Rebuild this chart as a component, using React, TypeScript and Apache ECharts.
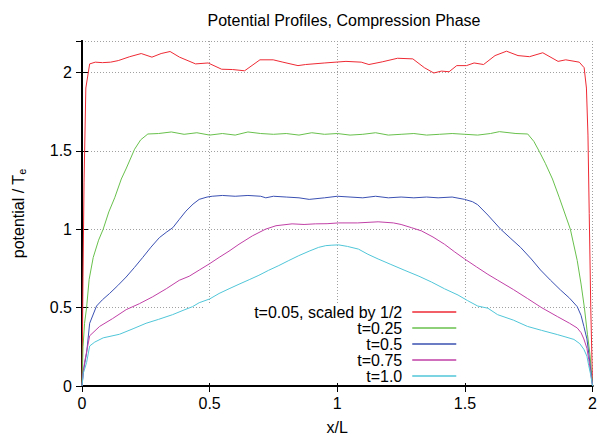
import React, { useEffect, useRef } from "react";
import * as echarts from "echarts";

const titleText = "Potential Profiles, Compression Phase";
const seriesNames = ["t=0.05, scaled by 1/2", "t=0.25", "t=0.5", "t=0.75", "t=1.0"];
const seriesColors = ["#ee2a34", "#68c04c", "#3a50b2", "#c040a6", "#50c6d8"];

const redX = [0, 0.004, 0.008, 0.015, 0.03, 0.052, 0.08, 0.112, 0.142, 0.187, 0.232, 0.274, 0.31, 0.345, 0.382, 0.445, 0.494, 0.547, 0.59, 0.637, 0.697, 0.749, 0.787, 0.846, 0.876, 0.951, 1.034, 1.094, 1.124, 1.176, 1.236, 1.296, 1.341, 1.378, 1.408, 1.438, 1.468, 1.506, 1.536, 1.573, 1.618, 1.663, 1.708, 1.753, 1.805, 1.865, 1.895, 1.948, 1.967, 1.976, 1.982, 1.987, 1.993, 2.0];
const redY = [0, 0.7, 1.3, 1.9, 2.054, 2.065, 2.062, 2.065, 2.075, 2.1, 2.12, 2.097, 2.12, 2.133, 2.097, 2.054, 2.06, 2.02, 2.018, 2.01, 2.08, 2.08, 2.065, 2.043, 2.05, 2.06, 2.07, 2.065, 2.05, 2.067, 2.09, 2.086, 2.03, 1.996, 2.008, 2.004, 2.043, 2.043, 2.06, 2.05, 2.107, 2.135, 2.107, 2.1, 2.125, 2.07, 2.08, 2.065, 2.03, 1.9, 1.6, 1.1, 0.5, 0];

const greenX = [0, 0.004, 0.01, 0.018, 0.028, 0.044, 0.065, 0.083, 0.105, 0.128, 0.154, 0.174, 0.206, 0.23, 0.258, 0.3, 0.35, 0.4, 0.45, 0.5, 0.55, 0.6, 0.65, 0.7, 0.75, 0.8, 0.85, 0.9, 0.95, 1.0, 1.05, 1.1, 1.15, 1.2, 1.25, 1.3, 1.35, 1.4, 1.45, 1.5, 1.55, 1.6, 1.635, 1.7, 1.746, 1.77, 1.791, 1.815, 1.843, 1.87, 1.913, 1.94, 1.955, 1.968, 1.98, 1.99, 2.0];
const greenY = [0, 0.25, 0.4, 0.5, 0.68, 0.82, 0.93, 1.0, 1.11, 1.2, 1.32, 1.39, 1.51, 1.57, 1.607, 1.61, 1.62, 1.605, 1.615, 1.6, 1.61, 1.6, 1.62, 1.61, 1.605, 1.61, 1.6, 1.615, 1.605, 1.61, 1.6, 1.605, 1.615, 1.6, 1.605, 1.61, 1.6, 1.605, 1.61, 1.605, 1.6, 1.61, 1.622, 1.61, 1.607, 1.56, 1.497, 1.42, 1.32, 1.2, 1.0, 0.8, 0.65, 0.5, 0.33, 0.2, 0];

const blueX = [0, 0.006, 0.018, 0.03, 0.057, 0.08, 0.108, 0.14, 0.173, 0.205, 0.238, 0.27, 0.303, 0.33, 0.356, 0.38, 0.407, 0.435, 0.459, 0.49, 0.51, 0.55, 0.6, 0.65, 0.7, 0.72, 0.75, 0.8, 0.85, 0.89, 0.95, 1.0, 1.05, 1.1, 1.15, 1.2, 1.25, 1.3, 1.35, 1.395, 1.45, 1.499, 1.53, 1.55, 1.59, 1.64, 1.68, 1.718, 1.76, 1.796, 1.835, 1.874, 1.91, 1.94, 1.955, 1.966, 1.978, 1.985, 1.993, 2.0];
const blueY = [0, 0.1, 0.21, 0.4, 0.51, 0.55, 0.59, 0.64, 0.695, 0.755, 0.82, 0.885, 0.946, 0.98, 1.01, 1.06, 1.115, 1.16, 1.19, 1.205, 1.21, 1.215, 1.21, 1.215, 1.21, 1.2, 1.21, 1.205, 1.2, 1.19, 1.2, 1.21, 1.205, 1.2, 1.21, 1.2, 1.205, 1.2, 1.205, 1.2, 1.205, 1.19, 1.175, 1.156, 1.09, 1.0, 0.94, 0.884, 0.81, 0.74, 0.675, 0.613, 0.56, 0.506, 0.45, 0.38, 0.3, 0.21, 0.1, 0];

const magentaX = [0, 0.004, 0.01, 0.03, 0.069, 0.12, 0.173, 0.225, 0.277, 0.33, 0.381, 0.42, 0.459, 0.5, 0.537, 0.576, 0.615, 0.667, 0.719, 0.76, 0.823, 0.87, 0.914, 0.96, 1.005, 1.08, 1.16, 1.22, 1.25, 1.29, 1.33, 1.375, 1.42, 1.46, 1.499, 1.545, 1.59, 1.628, 1.69, 1.745, 1.8, 1.862, 1.91, 1.94, 1.955, 1.966, 1.978, 1.985, 1.993, 2.0];
const magentaY = [0, 0.08, 0.15, 0.32, 0.38, 0.43, 0.487, 0.525, 0.569, 0.62, 0.674, 0.7, 0.739, 0.78, 0.82, 0.86, 0.904, 0.957, 1.0, 1.022, 1.034, 1.03, 1.034, 1.035, 1.04, 1.04, 1.047, 1.04, 1.03, 1.01, 0.989, 0.95, 0.904, 0.855, 0.81, 0.76, 0.712, 0.675, 0.615, 0.558, 0.5, 0.443, 0.4, 0.37, 0.34, 0.3, 0.24, 0.17, 0.08, 0];

const cyanX = [0, 0.005, 0.018, 0.03, 0.05, 0.083, 0.147, 0.2, 0.251, 0.3, 0.355, 0.4, 0.433, 0.459, 0.5, 0.537, 0.576, 0.615, 0.655, 0.693, 0.73, 0.771, 0.81, 0.849, 0.89, 0.927, 0.955, 0.979, 1.005, 1.04, 1.083, 1.12, 1.16, 1.21, 1.265, 1.32, 1.369, 1.42, 1.473, 1.51, 1.55, 1.59, 1.628, 1.69, 1.745, 1.8, 1.862, 1.9, 1.927, 1.95, 1.966, 1.978, 1.985, 1.993, 2.0];
const cyanY = [0, 0.08, 0.15, 0.255, 0.28, 0.307, 0.33, 0.365, 0.4, 0.425, 0.455, 0.485, 0.506, 0.531, 0.555, 0.59, 0.62, 0.649, 0.678, 0.706, 0.737, 0.768, 0.8, 0.831, 0.86, 0.884, 0.895, 0.898, 0.9, 0.89, 0.873, 0.84, 0.81, 0.775, 0.737, 0.7, 0.663, 0.62, 0.58, 0.545, 0.51, 0.496, 0.455, 0.42, 0.38, 0.355, 0.328, 0.31, 0.297, 0.27, 0.234, 0.19, 0.13, 0.07, 0];

const allX = [redX, greenX, blueX, magentaX, cyanX];
const allY = [redY, greenY, blueY, magentaY, cyanY];

const FONT = "Liberation Sans";
const FS = 16;

export default function App() {
  const ref = useRef<HTMLDivElement>(null);
  useEffect(() => {
    if (!ref.current) return;
    const chart = echarts.init(ref.current, null, { renderer: "svg" });
    const frame = { show: true, lineStyle: { color: "#000", width: 2 } };
    const split = { show: true, lineStyle: { color: "#a0a0a0", width: 1, type: [1, 2] } };
    const tick = { show: true, inside: true, length: 6, lineStyle: { color: "#000", width: 1 } };
    const option: any = {
      animation: false,
      backgroundColor: "#fff",
      textStyle: { fontFamily: FONT },
      title: {
        text: titleText,
        left: 339,
        top: 7,
        textAlign: "center",
        textStyle: { fontSize: FS, fontWeight: "normal", color: "#000", fontFamily: FONT },
      },
      grid: { left: 82, right: 5, top: 41, bottom: 50, containLabel: false },
      legend: {
        orient: "vertical",
        align: "right",
        right: 138,
        top: 299,
        itemWidth: 44,
        itemHeight: 14,
        itemGap: 0,
        itemStyle: { opacity: 0 },
        lineStyle: { width: 1.5 },
        textStyle: { fontSize: FS, color: "#000", fontFamily: FONT, padding: [0, 5, 0, 0] },
        data: seriesNames,
      },
      graphic: {
        elements: [
          { type: "rect", z: 1, shape: { x: 205, y: 303, width: 267, height: 80 }, style: { fill: "#fff" }, silent: true },
        ],
      },
      xAxis: [
        {
          type: "value",
          min: 0,
          max: 2,
          interval: 0.5,
          position: "bottom",
          axisLine: frame,
          axisTick: tick,
          splitLine: split,
          axisLabel: { fontSize: FS, color: "#000", margin: 9, fontFamily: FONT },
          name: "x/L",
          nameLocation: "middle",
          nameGap: 33,
          nameTextStyle: { fontSize: FS, color: "#000", fontFamily: FONT },
        },
        {
          type: "value",
          min: 0,
          max: 2,
          interval: 0.5,
          position: "top",
          axisLine: frame,
          axisTick: tick,
          splitLine: { show: false },
          axisLabel: { show: false },
        },
      ],
      yAxis: [
        {
          type: "value",
          min: 0,
          max: 2.2,
          interval: 0.5,
          position: "left",
          axisLine: frame,
          axisTick: tick,
          splitLine: split,
          axisLabel: { fontSize: FS, color: "#000", margin: 10, fontFamily: FONT, showMaxLabel: false },
          name: "potential / T{sub|e}",
          nameLocation: "middle",
          nameGap: 55,
          nameTextStyle: {
            fontSize: FS,
            color: "#000",
            fontFamily: FONT,
            rich: { sub: { fontSize: 11, fontFamily: FONT, color: "#000", verticalAlign: "bottom", padding: [7, 0, 0, 0] } },
          },
        },
        {
          type: "value",
          min: 0,
          max: 2.2,
          interval: 0.5,
          position: "right",
          axisLine: frame,
          axisTick: tick,
          splitLine: { show: false },
          axisLabel: { show: false },
        },
      ],
      series: seriesNames.map((name, i) => ({
        name,
        type: "line",
        xAxisIndex: 0,
        yAxisIndex: 0,
        symbol: "none",
        showSymbol: false,
        z: 2,
        lineStyle: { color: seriesColors[i], width: 1 },
        itemStyle: { color: seriesColors[i] },
        data: allX[i].map((x, j) => [x, allY[i][j]]),
      })),
    };
    chart.setOption(option);
    return () => chart.dispose();
  }, []);
  return <div ref={ref} style={{ width: 600, height: 440, position: "absolute", left: 0, top: 0 }} />;
}
